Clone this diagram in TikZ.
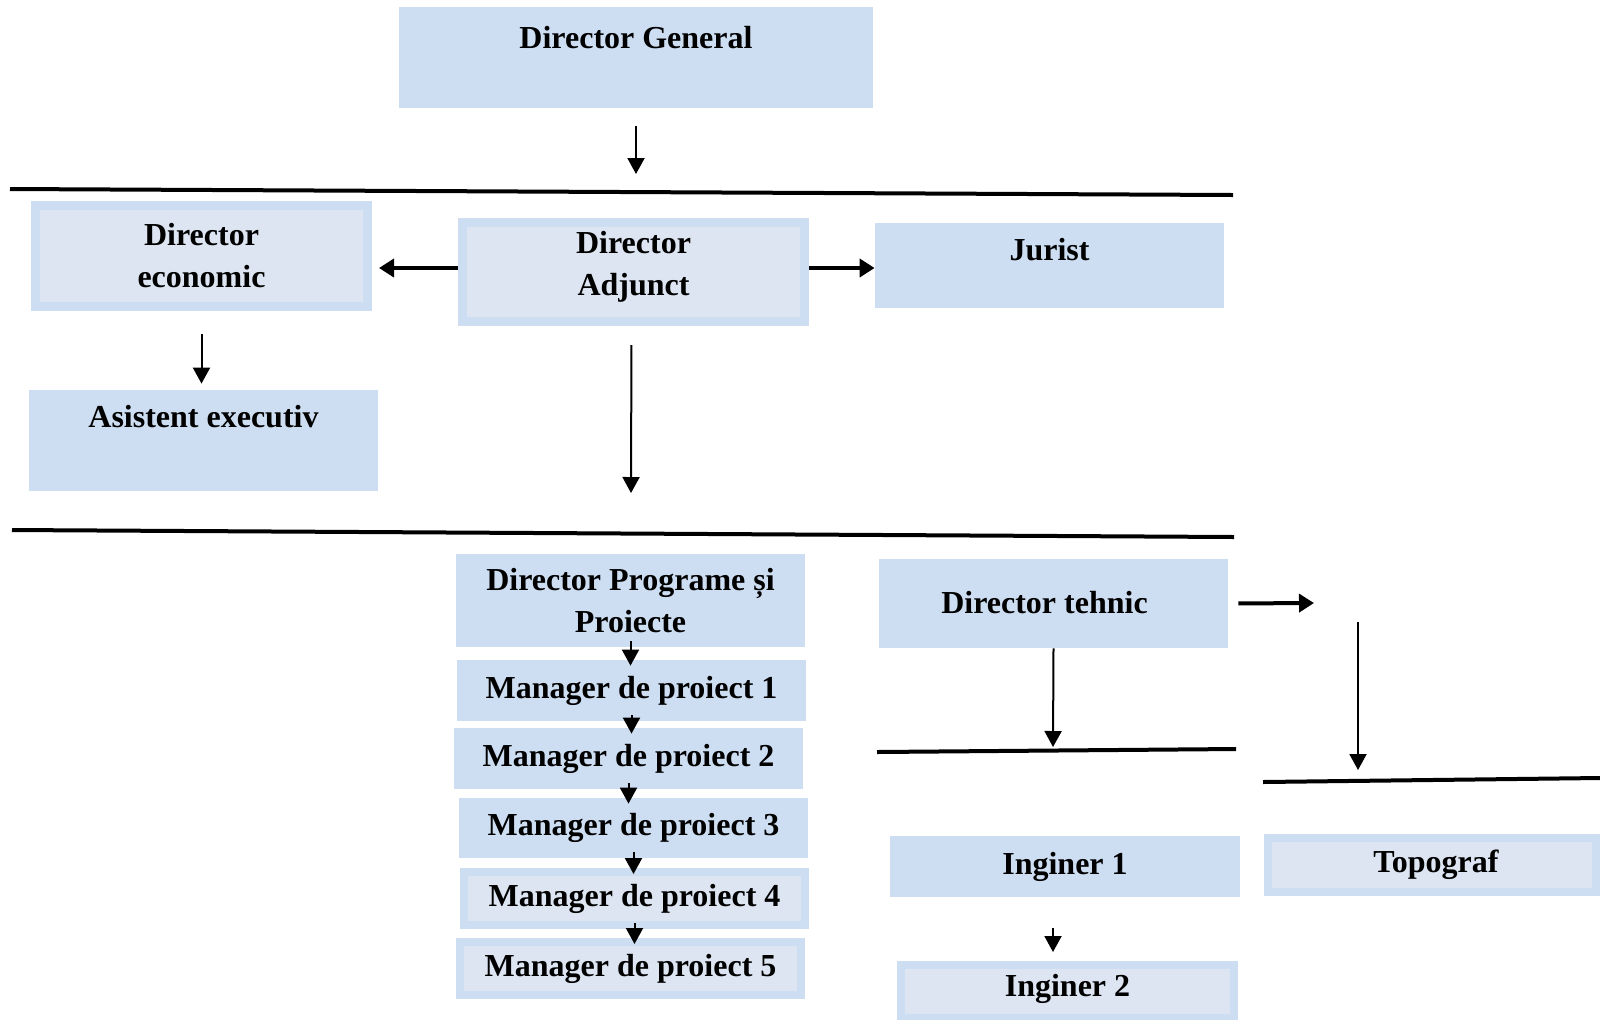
\documentclass[tikz,border=0pt]{standalone}
\usepackage{fontspec}
\setmainfont{Liberation Serif}
\usepackage{tikz}
\usetikzlibrary{arrows.meta,positioning,calc}
\definecolor{boxblue}{RGB}{206,222,242}
\definecolor{boxpale}{RGB}{220,229,241}

\begin{document}
\begin{tikzpicture}[x=0.5pt, y=-0.5pt,
  every node/.style={align=center, font=\fontsize{16pt}{21pt}\selectfont\bfseries},
  box/.style={fill=boxblue, inner sep=0pt, minimum width=174.5pt},
  dbox/.style={box, fill=boxpale, draw=boxblue, line width=4pt},
  arr/.style={-{Triangle[length=8pt,width=8.5pt]}, line width=1pt},
  harr/.style={-{Triangle[length=7.5pt,width=9pt]}, line width=2pt},
  sep/.style={line width=2pt}]
  \useasboundingbox (0,0) rectangle (1600,1019);

  \node[box, minimum width=237pt, minimum height=50.5pt] (dg) at (636,57.5) {};
  \node (dgtxt) at ($(dg.north)+(0,31)$) {Director General};
  \node[dbox, line width=4.5pt, minimum width=166pt, minimum height=50.5pt] (de) at (201.5,256) {Director\\economic};
  \node[dbox, line width=4.5pt, minimum width=171pt, minimum height=49.5pt] (da) at (633.5,272) {};
  \node (datxt) at ($(da.center)+(0,-5)$) {Director\\Adjunct};
  \node[box, minimum height=42.5pt] (ju) at (1049.5,265.5) {};
  \node (jutxt) at ($(ju.north)+(0,27)$) {Jurist};
  \node[box, minimum height=50.5pt] (ae) at (203.5,440.5) {};
  \node (aetxt) at ($(ae.north)+(0,27)$) {Asistent executiv};

  \node[box, minimum height=46.5pt] (dpp) at (630.5,600.5) {Director Programe și\\Proiecte};
  \node[box, minimum height=30.5pt] (m1) at (631.5,690.5) {Manager de proiect 1};
  \node[box, minimum height=30.5pt] (m2) at (628.5,758.5) {Manager de proiect 2};
  \node[box, minimum height=30pt] (m3) at (633.5,828) {Manager de proiect 3};
  \node[dbox, minimum width=170.5pt, minimum height=26.5pt] (m4) at (634.5,898.5) {Manager de proiect 4};
  \node[dbox, minimum width=170.5pt, minimum height=26.5pt] (m5) at (630.5,968.5) {Manager de proiect 5};

  \node[box, minimum height=44.5pt] (dt) at (1053.5,603.5) {};
  \node (dttxt) at ($(dt.center)+(-9,-1)$) {Director tehnic};
  \node[box, minimum width=175pt, minimum height=30.5pt] (i1) at (1065,866.5) {Inginer 1};
  \node[dbox, minimum width=164pt, minimum height=27pt] (tp) at (1432,865) {};
  \node (tptxt) at ($(tp.center)+(4,0)$) {Topograf};
  \node[dbox, minimum width=166.5pt, minimum height=26.5pt] (i2) at (1067.5,991.5) {};
  \node (i2txt) at ($(i2.center)+(0,-3)$) {Inginer 2};

  \coordinate (s1a) at (10,189);   \coordinate (s1b) at (1233,195);
  \coordinate (s2a) at (12,530);   \coordinate (s2b) at (1234,537);
  \coordinate (s3a) at (877,752);  \coordinate (s3b) at (1236,749);
  \coordinate (s4a) at (1263,782); \coordinate (s4b) at (1600,778);
  \coordinate (dgtip) at (636,174);
  \coordinate (datip) at (631,493);
  \coordinate (dtr) at (1314,603);
  \coordinate (dttip) at (1053,747);
  \coordinate (tptop) at (1358,622);
  \coordinate (tptip) at (1358,770);

  \draw[sep] (s1a) -- (s1b);
  \draw[sep] (s2a) -- (s2b);
  \draw[sep] (s3a) -- (s3b);
  \draw[sep] (s4a) -- (s4b);

  \draw[arr, shorten <=9pt] (dg.south) -- (dgtip);
  \draw[harr, shorten >=3.5pt] ([yshift=2pt]da.west) -- ([yshift=2pt]da.west -| de.east);
  \draw[harr] ([yshift=2pt]da.east) -- ([yshift=2pt]da.east -| ju.west);
  \draw[arr, shorten <=11.5pt, shorten >=3pt] (de.south) -- (de.south |- ae.north);
  \draw[arr, shorten <=9.5pt] ([xshift=-1pt]da.south) -- (datip);
  \foreach \a/\b in {dpp/m1,m1/m2,m2/m3,m3/m4,m4/m5}
    \draw[arr] ([yshift=3pt]\a.south) -- ([yshift=-3pt]\a.south |- \b.north);
  \draw[harr, shorten <=5pt] (dt.east) -- (dtr);
  \draw[arr] (dt.south) -- (dttip);
  \draw[arr] (tptop) -- (tptip);
  \draw[arr, shorten <=15.5pt, shorten >=4.5pt] ([xshift=-6pt]i1.south) -- ([xshift=-6pt]i1.south |- i2.north);
\end{tikzpicture}
\end{document}
